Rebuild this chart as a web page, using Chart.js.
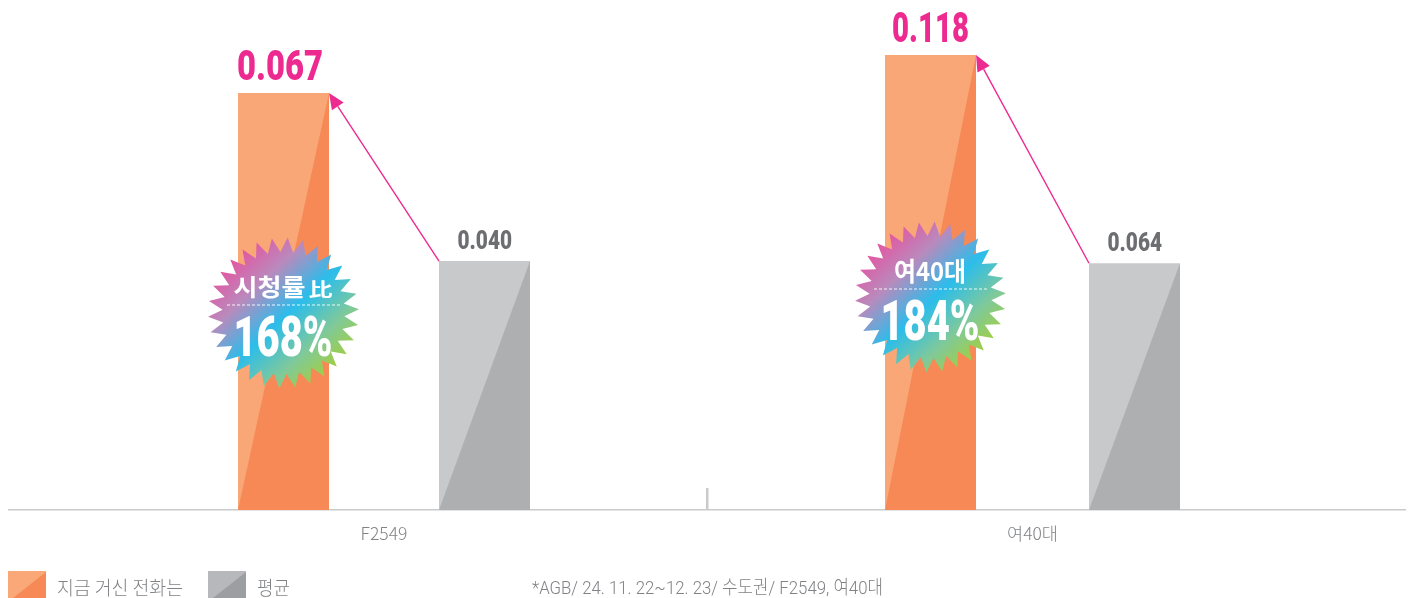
<!DOCTYPE html>
<html lang="ko">
<head>
<meta charset="utf-8">
<style>html,body{margin:0;padding:0;background:#fff}#w{width:1410px;height:598px;position:relative;overflow:hidden}</style>
<script src="https://cdn.jsdelivr.net/npm/chart.js@4"></script>
</head>
<body>
<div id="w"><canvas id="c" width="1410" height="598"></canvas></div>
<script>
const categories = ['F2549', '여40대'];
const seriesNames = ['지금 거신 전화는', '평균'];
const programValues = [0.067, 0.118];
const averageValues = [0.040, 0.064];
const badgeTitles = ['시청률', '여40대'];
const badgePercents = ['168%', '184%'];
const footnote = '*AGB/ 24. 11. 22~12. 23/ 수도권/ F2549, 여40대';

const ORANGE_L = '#F9A776', ORANGE_D = '#F68955';
const GRAY_L = '#C8C9CB', GRAY_D = '#AEAFB1';
const PINK = '#EC2A90', TXT = '#808285', DARKTXT = '#6D6E71';
const NUM = '900 {s}px Roboto, "Noto Sans CJK KR"';

function only(arr, i) { return arr.map((v, j) => (j === i ? v : null)); }
const slot = [201, 204];
const datasets = [];
categories.forEach((_, i) => {
  const common = { yAxisID: i === 0 ? 'y' : 'y2', categoryPercentage: 2 * slot[i] / 648.5, barPercentage: 91 / slot[i], borderWidth: 0 };
  datasets.push({ label: seriesNames[0], data: only(programValues, i), stack: 'a', backgroundColor: ORANGE_L, ...common });
  datasets.push({ label: seriesNames[1], data: only(averageValues, i), stack: 'b', backgroundColor: GRAY_L, ...common });
});

function fitText(ctx, text, left, baseline, width, font, color) {
  ctx.save();
  ctx.font = font; ctx.fillStyle = color; ctx.textAlign = 'left'; ctx.textBaseline = 'alphabetic';
  const m = ctx.measureText(text).width;
  ctx.translate(left, baseline);
  ctx.scale(width / m, 1);
  ctx.fillText(text, 0, 0);
  ctx.restore();
}
function tri(ctx, pts, color) {
  ctx.beginPath();
  pts.forEach((p, i) => i ? ctx.lineTo(p[0], p[1]) : ctx.moveTo(p[0], p[1]));
  ctx.closePath(); ctx.fillStyle = color; ctx.fill();
}
function burst(ctx, cx, cy) {
  const n = 30, R = 75.5, r = 61, rot = -0.05;
  const g = ctx.createLinearGradient(cx - 58, cy - 62, cx + 58, cy + 62);
  g.addColorStop(0.04, '#E8509E');
  g.addColorStop(0.28, '#B98ABD');
  g.addColorStop(0.52, '#2BBDEB');
  g.addColorStop(0.75, '#7FC99B');
  g.addColorStop(0.96, '#A5CF3A');
  ctx.beginPath();
  for (let i = 0; i < n * 2; i++) {
    const a = rot + Math.PI * i / n, q = i % 2 ? r : R;
    const x = cx + q * Math.cos(a), y = cy + q * Math.sin(a);
    i ? ctx.lineTo(x, y) : ctx.moveTo(x, y);
  }
  ctx.closePath(); ctx.fillStyle = g; ctx.fill();
}
const overlay = {
  id: 'overlay',
  afterDatasetsDraw(chart) {
    const ctx = chart.ctx, xs = chart.scales.x, base = chart.scales.y.getPixelForValue(0);
    // baseline + divider
    ctx.fillStyle = '#C9CACC';
    ctx.fillRect(8, Math.round(base) - 1, 1398, 1.5);
    ctx.fillRect(Math.round(xs.getPixelForValue(0.5)) - 2, 488, 2.5, 22);
    const bars = [];
    categories.forEach((_, i) => {
      const a = chart.getDatasetMeta(i * 2).data[i], b = chart.getDatasetMeta(i * 2 + 1).data[i];
      bars.push([a, b]);
      [[a, ORANGE_D], [b, GRAY_D]].forEach(([el, col]) => {
        const l = el.x - el.width / 2, r = el.x + el.width / 2;
        tri(ctx, [[l, el.base], [r, el.y], [r, el.base]], col);
      });
    });
    // value labels
    const w1 = [86, 77], off1 = [-3.5, 0];
    bars.forEach(([a, b], i) => {
      const t1 = programValues[i].toFixed(3), t2 = averageValues[i].toFixed(3);
      fitText(ctx, t1, a.x + off1[i] - w1[i] / 2, a.y - 13, w1[i], NUM.replace('{s}', 42), PINK);
      fitText(ctx, t2, b.x - 27, b.y - 12, 54.5, NUM.replace('{s}', 25), DARKTXT);
      // arrow
      const tx = a.x + a.width / 2, ty = a.y, sx = b.x - b.width / 2, sy = b.y;
      const ang = Math.atan2(sy - ty, sx - tx), L = 16, W = 7;
      const bx = tx + L * Math.cos(ang), by = ty + L * Math.sin(ang);
      ctx.strokeStyle = PINK; ctx.lineWidth = 1.4;
      ctx.beginPath(); ctx.moveTo(sx, sy); ctx.lineTo(bx, by); ctx.stroke();
      tri(ctx, [[tx, ty], [bx - W * Math.sin(ang), by + W * Math.cos(ang)], [bx + W * Math.sin(ang), by - W * Math.cos(ang)]], PINK);
    });
    // badges
    const cy = [313, 297];
    bars.forEach(([a], i) => {
      const cx = a.x, y = cy[i];
      burst(ctx, cx, y);
      ctx.save();
      ctx.strokeStyle = 'rgba(255,255,255,.9)'; ctx.lineWidth = 1; ctx.setLineDash([3, 2]);
      ctx.beginPath(); ctx.moveTo(cx - 56.5, y - 8); ctx.lineTo(cx + 56.5, y - 8); ctx.stroke();
      ctx.restore();
      const kr = '700 {s}px "Noto Sans CJK KR"';
      if (i === 0) {
        fitText(ctx, badgeTitles[0], cx - 50, y - 17, 72, kr.replace('{s}', 24), '#fff');
        fitText(ctx, '比', cx + 25, y - 17, 24, '700 18px "Noto Sans CJK KR"', '#fff');
      } else {
        fitText(ctx, badgeTitles[1], cx - 36.5, y - 16, 72, kr.replace('{s}', 26), '#fff');
      }
      fitText(ctx, badgePercents[i], cx - 50, y + 42.5, 99, NUM.replace('{s}', 56), '#fff');
    });
    // legend
    const lg = [[8, '#FAA878', '#F68955', 57, 126], [208, '#B7B8BB', '#9D9EA1', 257, 33]];
    lg.forEach(([x, c1, c2, tx, tw], i) => {
      ctx.fillStyle = c1; ctx.fillRect(x, 571, 38, 27);
      tri(ctx, [[x + 5, 598], [x + 38, 572], [x + 38, 598]], c2);
      fitText(ctx, seriesNames[i], tx, 595, tw, '300 19px "Noto Sans CJK KR"', TXT);
    });
    fitText(ctx, footnote, 532, 594, 351, '300 19px Roboto, "Noto Sans CJK KR"', TXT);
  }
};
new Chart(document.getElementById('c'), {
  type: 'bar',
  data: { labels: categories, datasets },
  options: {
    responsive: false, animation: false,
    layout: { padding: { left: 59.75, right: 53.25, top: 0, bottom: 0 } },
    plugins: { legend: { display: false }, tooltip: { enabled: false } },
    scales: {
      x: {
        stacked: true, border: { display: false }, grid: { display: false },
        ticks: { color: TXT, padding: 5, maxRotation: 0, font: { family: '"Liberation Sans Narrow", "Noto Sans CJK KR"', size: 17.5, weight: '300' } },
        afterFit(s) { s.height = 88; }
      },
      y: { display: false, min: 0, max: 0.08194 },
      y2: { display: false, min: 0, max: 0.13226 }
    }
  },
  plugins: [overlay]
});
</script>
</body>
</html>
